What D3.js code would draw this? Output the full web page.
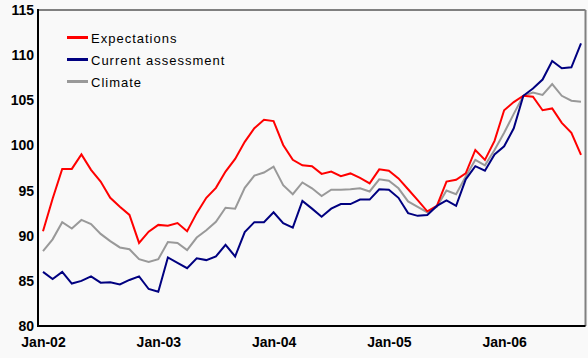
<!DOCTYPE html>
<html>
<head>
<meta charset="utf-8">
<title>Ifo business climate</title>
<style>
  body { margin: 0; background: #f9f9f9; }
  svg { display: block; font-family: "Liberation Sans", Arial, sans-serif; }
  .axis text { font-size: 14px; font-weight: bold; fill: #000; }
  .legend text { font-size: 13px; letter-spacing: 1px; fill: #000; }
</style>
</head>
<body>
<svg width="588" height="358"></svg>
<script src="https://d3js.org/d3.v7.min.js"></script>
<script>
// monthly, Jan-02 .. Sep-06
var expectations = [90.5, 94.1, 97.4, 97.4, 99.0, 97.3, 96.0, 94.2, 93.2, 92.3, 89.2, 90.45,
  91.2, 91.1, 91.4, 90.5, 92.5, 94.2, 95.3, 97.1, 98.5, 100.4, 101.9, 102.85,
  102.7, 100.05, 98.4, 97.8, 97.7, 96.85, 97.1, 96.6, 96.9, 96.4, 95.8, 97.35,
  97.2, 96.35, 95.15, 93.95, 92.7, 93.3, 96.0, 96.2, 96.9, 99.5, 98.4, 100.5,
  103.9, 104.8, 105.5, 105.4, 103.9, 104.1, 102.5, 101.4, 98.95];
var current = [86.0, 85.2, 86.0, 84.7, 85.0, 85.5, 84.8, 84.85, 84.6, 85.1, 85.5, 84.1,
  83.8, 87.6, 87.0, 86.4, 87.5, 87.3, 87.7, 89.0, 87.7, 90.4, 91.5, 91.5,
  92.6, 91.4, 90.9, 93.85, 93.0, 92.1, 93.0, 93.5, 93.5, 94.0, 94.0, 95.15,
  95.1, 94.2, 92.5, 92.2, 92.3, 93.3, 93.9, 93.3, 96.25, 97.7, 97.2, 99.0,
  99.9, 101.9, 105.5, 106.3, 107.3, 109.35, 108.55, 108.65, 111.3];
var climate = [88.3, 89.6, 91.5, 90.8, 91.75, 91.3, 90.2, 89.4, 88.7, 88.5, 87.4, 87.1,
  87.4, 89.3, 89.2, 88.4, 89.8, 90.6, 91.55, 93.1, 93.0, 95.3, 96.65, 97.0,
  97.65, 95.6, 94.6, 95.9, 95.25, 94.4, 95.1, 95.1, 95.15, 95.25, 94.9, 96.25,
  96.1, 95.25, 93.8, 93.2, 92.6, 93.2, 95.0, 94.6, 96.55, 98.4, 97.8, 99.5,
  101.4, 103.5, 105.5, 105.85, 105.6, 106.8, 105.5, 104.95, 104.85];

var seriesNames = ["Expectations", "Current assessment", "Climate"];
var seriesColors = ["#ff0000", "#000080", "#999999"];
var tickIndex = [0, 12, 24, 36, 48];
var tickLabels = ["Jan-02", "Jan-03", "Jan-04", "Jan-05", "Jan-06"];
var yTicks = [80, 85, 90, 95, 100, 105, 110, 115];

var svg = d3.select("svg");
var pLeft = 38, pRight = 585.5, pTop = 10, pBottom = 326;

var x = d3.scaleLinear().domain([0, expectations.length - 1]).range([43, 581]);
var y = d3.scaleLinear().domain([80, 115]).range([pBottom, pTop]);

// frame: grey top/right, black left/bottom
svg.append("line").attr("x1", pLeft).attr("x2", pRight).attr("y1", pTop).attr("y2", pTop)
  .attr("stroke", "#808080").attr("stroke-width", 2);
svg.append("line").attr("x1", pRight).attr("x2", pRight).attr("y1", pTop).attr("y2", pBottom)
  .attr("stroke", "#808080").attr("stroke-width", 2);

var line = d3.line().x(function (d, i) { return x(i); }).y(function (d) { return y(d); });

// draw order: climate underneath, then expectations, current on top
[[climate, 2], [expectations, 0], [current, 1]].forEach(function (s) {
  svg.append("path").datum(s[0])
    .attr("fill", "none")
    .attr("stroke", seriesColors[s[1]])
    .attr("stroke-width", 2)
    .attr("d", line);
});

svg.append("line").attr("x1", pLeft).attr("x2", pLeft).attr("y1", pTop - 1).attr("y2", pBottom + 1)
  .attr("stroke", "#000").attr("stroke-width", 2);
svg.append("line").attr("x1", pLeft - 1).attr("x2", pRight).attr("y1", pBottom).attr("y2", pBottom)
  .attr("stroke", "#000").attr("stroke-width", 2);

// axes
svg.append("g").attr("class", "axis")
  .attr("transform", "translate(" + pLeft + ",0)")
  .call(d3.axisLeft(y).tickValues(yTicks).tickSize(0).tickPadding(4))
  .call(function (g) { g.select(".domain").remove(); });

svg.append("g").attr("class", "axis")
  .attr("transform", "translate(0," + pBottom + ")")
  .call(d3.axisBottom(x).tickValues(tickIndex).tickSize(0).tickPadding(11)
    .tickFormat(function (d, i) { return tickLabels[i]; }))
  .call(function (g) { g.select(".domain").remove(); });

// legend
var legend = svg.append("g").attr("class", "legend");
seriesNames.forEach(function (name, i) {
  var yy = 37.5 + i * 22;
  legend.append("line").attr("x1", 67).attr("x2", 88).attr("y1", yy).attr("y2", yy)
    .attr("stroke", seriesColors[i]).attr("stroke-width", 3);
  legend.append("text").attr("x", 91).attr("y", yy + 5).text(name);
});
</script>
</body>
</html>
